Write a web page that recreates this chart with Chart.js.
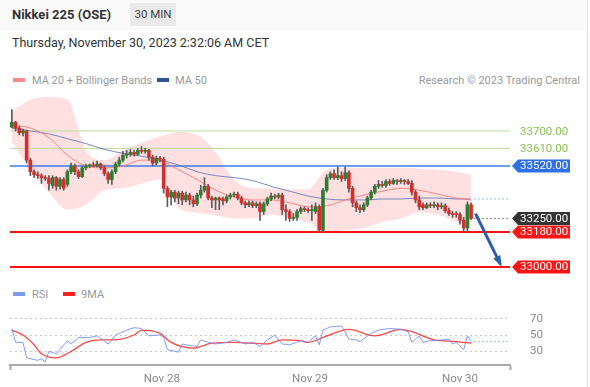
<!DOCTYPE html>
<html>
<head>
<meta charset="utf-8">
<script src="https://cdn.jsdelivr.net/npm/chart.js@4.4.0/dist/chart.umd.min.js"></script>
<style>
body{margin:0;width:590px;height:387px;background:#fff;font-family:Roboto,"Noto Sans",sans-serif;position:relative;overflow:hidden}
.t{position:absolute;white-space:nowrap;line-height:1}
#hdr{position:absolute;left:0;top:0;width:588px;height:30px;background:#fafafa}
#edge{position:absolute;left:587px;top:0;width:1px;height:387px;background:#e4e4e4}
#tf{position:absolute;left:130px;top:3px;width:46px;height:23px;background:#e9e9e9;color:#444;font-size:11.5px;text-align:center;line-height:23px}
.sw{position:absolute;width:12px;height:4px}
canvas{position:absolute;left:0}
</style>
</head>
<body>
<div id="hdr"></div>
<div id="edge"></div>
<div class="t" style="left:12px;top:8px;font-size:13px;font-weight:bold;color:#333">Nikkei 225 (OSE)</div>
<div id="tf">30 MIN</div>
<div class="t" style="left:12px;top:37px;font-size:12.5px;color:#333">Thursday, November 30, 2023 2:32:06 AM CET</div>
<div class="sw" style="left:13px;top:78px;background:#ff8a8a"></div>
<div class="t" style="left:32px;top:75px;font-size:11px;color:#999">MA 20 + Bollinger Bands</div>
<div class="sw" style="left:157px;top:78px;background:#2f5596"></div>
<div class="t" style="left:175px;top:75px;font-size:11px;color:#999">MA 50</div>
<div class="t" style="right:10px;top:75px;font-size:11px;color:#999">Research © 2023 Trading Central</div>
<div class="sw" style="left:13px;top:292px;background:#7b9cf0"></div>
<div class="t" style="left:32px;top:289px;font-size:11px;color:#999">RSI</div>
<div class="sw" style="left:63px;top:292px;background:#ff2020"></div>
<div class="t" style="left:81px;top:289px;font-size:11px;color:#999">9MA</div>
<canvas id="main" width="590" height="185" style="top:95px"></canvas>
<canvas id="rsi" width="590" height="91" style="top:296px"></canvas>
<script>
// 30 min candles, index = candle number
const opens=[33720,33745,33715,33690,33700,33550,33490,33475,33470,33460,33455,33420,33460,33415,33450,33425,33490,33520,33490,33465,
33510,33520,33525,33520,33530,33510,33480,33450,33490,33530,33550,33575,33580,33590,33580,33600,33595,33600,33565,33535,
33560,33555,33405,33360,33385,33355,33380,33345,33370,33345,33325,33370,33395,33415,33355,33345,33355,33350,33340,33360,
33370,33375,33355,33330,33320,33330,33315,33325,33285,33325,33350,33365,33360,33370,33295,33285,33250,33255,33285,33300,
33295,33290,33285,33310,33190,33395,33460,33480,33460,33470,33455,33485,33405,33330,33305,33295,33320,33355,33385,33415,
33425,33420,33440,33430,33445,33440,33445,33440,33430,33385,33345,33320,33305,33320,33315,33320,33310,33315,33290,33275,
33275,33270,33240,33200,33320];
const highs=[33810,33750,33725,33710,33705,33560,33500,33490,33480,33470,33470,33470,33465,33460,33460,33500,33535,33530,33500,33520,
33530,33530,33540,33545,33535,33520,33490,33500,33540,33565,33595,33600,33605,33600,33610,33620,33610,33605,33575,33570,
33570,33565,33415,33395,33395,33390,33390,33385,33380,33365,33380,33420,33460,33425,33365,33360,33360,33360,33370,33380,
33385,33385,33365,33340,33340,33340,33335,33335,33335,33360,33380,33375,33380,33380,33320,33295,33275,33295,33310,33310,
33305,33320,33330,33320,33405,33475,33490,33500,33515,33490,33515,33495,33415,33340,33320,33330,33365,33395,33425,33445,
33440,33450,33450,33455,33450,33455,33450,33450,33445,33395,33365,33330,33330,33330,33335,33330,33330,33325,33305,33285,
33285,33280,33255,33335,33330];
const lows=[33715,33700,33680,33675,33535,33470,33460,33455,33430,33445,33395,33405,33395,33400,33395,33415,33480,33475,33455,33460,
33500,33510,33515,33515,33500,33470,33430,33425,33480,33520,33540,33560,33570,33570,33575,33585,33585,33550,33520,33525,
33540,33380,33310,33320,33335,33325,33320,33335,33320,33310,33315,33355,33385,33345,33305,33295,33295,33320,33330,33350,
33360,33345,33320,33305,33310,33305,33305,33240,33270,33315,33340,33350,33350,33270,33240,33235,33240,33240,33275,33285,
33280,33240,33275,33180,33180,33385,33450,33450,33450,33440,33445,33385,33310,33285,33280,33285,33310,33345,33375,33405,
33410,33410,33420,33425,33425,33430,33425,33425,33370,33330,33295,33295,33300,33305,33305,33295,33300,33280,33265,33255,
33255,33220,33180,33180,33245];
const closes=[33745,33715,33690,33700,33550,33490,33475,33470,33460,33455,33430,33460,33415,33450,33405,33490,33520,33490,33465,33510,
33520,33525,33520,33530,33510,33480,33450,33490,33530,33550,33575,33580,33590,33580,33600,33595,33600,33565,33535,33560,
33555,33405,33360,33385,33355,33380,33345,33370,33345,33325,33370,33395,33415,33355,33345,33355,33345,33340,33360,33370,
33375,33355,33330,33320,33330,33315,33325,33285,33325,33350,33365,33360,33370,33295,33285,33250,33255,33285,33300,33295,
33290,33295,33310,33190,33395,33460,33480,33460,33470,33455,33485,33405,33330,33305,33295,33320,33355,33385,33415,33425,
33420,33440,33430,33445,33440,33445,33440,33430,33385,33345,33310,33305,33320,33315,33320,33310,33315,33290,33275,33270,
33270,33240,33200,33320,33250];

// moving averages / bands read every 5 candles
const bandIdx=[0,5,10,15,20,25,30,35,40,45,50,55,60,65,70,75,80,85,90,95,100,105,110,115,120,124];
const bbUpper=[33800,33860,33875,33860,33600,33550,33600,33640,33670,33695,33680,33590,33450,33405,33405,33400,33400,33500,33510,33510,33510,33510,33505,33500,33490,33475];
const bbLower=[33645,33500,33385,33295,33320,33395,33405,33430,33450,33305,33280,33265,33250,33250,33270,33250,33230,33180,33190,33200,33230,33250,33280,33270,33230,33205];
const ma20=[33730,33715,33665,33575,33520,33510,33520,33550,33545,33500,33450,33395,33360,33345,33345,33330,33310,33315,33345,33370,33390,33405,33395,33375,33355,33345];
const ma50=[33715,33700,33685,33660,33635,33605,33585,33570,33550,33525,33490,33470,33460,33445,33415,33390,33365,33350,33345,33345,33350,33350,33355,33355,33350,33350];

const rsiIdx=[0,1,3,4,7,8,9,10,12,15,16,18,21,23,26,28,31,33,35,37,40,41,42,45,46,47,50,51,53,55,58,60,63,65,67,69,71,73,75,78,80,82,83,84,86,89,90,91,93,94,97,99,102,105,107,108,110,111,113,116,118,119,120,122,123,124];
const rsiVal=[58,41,41,22,19,21,17,30,27,43,39,47,47,49,39,50,56,59,58,49,50,47,32,29,39,38,36,44,41,39,41,44,39,41,36,44,50,39,38,43,41,49,38,56,60,61,54,45,44,42,52,56,58,57,54,41,49,41,43,44,45,39,41,32,49,42];
const rsiMaIdx=[0,3,6,8,12,16,20,24,27,33,35,40,43,49,54,60,69,73,78,80,84,91,98,105,108,114,120,124];
const rsiMaVal=[56,50,38,27,22,30,41,44,44,50,56,52,41,34,40,41,39,44,43,41,47,57,49,57,54,44,42,40];

const levels=[33700,33610,33520,33250,33180,33000];
const levelKind=['green','green','blue','dark','red','red'];
const dayTicks=[40.5,80.5,121];
const dayLabels=['Nov 28','Nov 29','Nov 30'];
const rsiTicks=[30,50,70];
const arrowFrom=[125.2,33275];
const arrowTo=[131.9,33015];

const X_MIN=-0.5, X_MAX=134.5;
const last=closes.length-1;
const pts=(xs,ys)=>xs.map((x,i)=>({x:x,y:ys[i]}));
const upCol='#2e7d32', dnCol='#d32f2f';
const candleCols=closes.map((c,i)=>c>=opens[i]?upCol:dnCol);
const lineStyle={green:{c:'#bcdc9f',w:1},blue:{c:'#3c7bf0',w:1.5},red:{c:'#ff1414',w:2}};
const tagCol={blue:'#2f6fe6',dark:'#333333',red:'#ff1414'};

const levelSets=levels.map((v,k)=>{
  const kind=levelKind[k];
  if(kind==='dark') return {type:'line',data:[{x:last+0.8,y:v},{x:X_MAX,y:v}],borderColor:'#888',borderWidth:1,borderDash:[2,2],pointRadius:0,order:4};
  const s=lineStyle[kind];
  return {type:'line',data:[{x:X_MIN,y:v},{x:X_MAX,y:v}],borderColor:s.c,borderWidth:s.w,pointRadius:0,order:4};
});

const tagPlugin={id:'tags',afterDraw(chart){
  const ctx=chart.ctx, ys=chart.scales.y, xs=chart.scales.x, right=chart.chartArea.right;
  ctx.save();
  ctx.font='11.5px Roboto, sans-serif';
  ctx.textBaseline='middle';
  levels.forEach((v,k)=>{
    const py=ys.getPixelForValue(v), kind=levelKind[k];
    if(kind==='green'){ctx.fillStyle='#8cc152';ctx.fillText(v.toFixed(2),right+10,py+1);return;}
    ctx.fillStyle=tagCol[kind];
    ctx.beginPath();
    ctx.moveTo(right+2,py);ctx.lineTo(right+8,py-6.5);ctx.lineTo(right+60,py-6.5);
    ctx.lineTo(right+60,py+6.5);ctx.lineTo(right+8,py+6.5);ctx.closePath();ctx.fill();
    ctx.fillStyle='#fff';ctx.fillText(v.toFixed(2),right+10,py+0.5);
  });
  // arrow head
  const x1=xs.getPixelForValue(arrowFrom[0]), y1=ys.getPixelForValue(arrowFrom[1]);
  const x2=xs.getPixelForValue(arrowTo[0]), y2=ys.getPixelForValue(arrowTo[1]);
  const a=Math.atan2(y2-y1,x2-x1), L=9;
  ctx.fillStyle='#2d5da8';
  ctx.beginPath();
  ctx.moveTo(x2+3*Math.cos(a),y2+3*Math.sin(a));
  ctx.lineTo(x2-L*Math.cos(a-0.45),y2-L*Math.sin(a-0.45));
  ctx.lineTo(x2-L*Math.cos(a+0.45),y2-L*Math.sin(a+0.45));
  ctx.closePath();ctx.fill();
  ctx.restore();
}};

new Chart(document.getElementById('main'),{
  type:'line',
  data:{datasets:[
    {type:'bar',data:opens.map((o,i)=>({x:i,y:[o,closes[i]]})),backgroundColor:candleCols,barThickness:3,minBarLength:1,grouped:false,order:0},
    {type:'bar',data:lows.map((l,i)=>({x:i,y:[l,highs[i]]})),backgroundColor:'#5a5a5a',barThickness:1,grouped:false,order:1},
    {type:'line',data:pts(bandIdx,ma20),borderColor:'rgba(255,110,110,0.8)',borderWidth:1,pointRadius:0,cubicInterpolationMode:'monotone',order:2},
    {type:'line',data:pts(bandIdx,ma50),borderColor:'rgba(90,120,185,0.85)',borderWidth:1,pointRadius:0,cubicInterpolationMode:'monotone',order:2},
    {type:'line',data:[{x:last+0.8,y:ma50[ma50.length-1]},{x:X_MAX,y:ma50[ma50.length-1]}],borderColor:'#9fb4e8',borderWidth:1,borderDash:[2,2],pointRadius:0,order:3},
    {type:'line',data:[{x:arrowFrom[0],y:arrowFrom[1]},{x:arrowTo[0],y:arrowTo[1]}],borderColor:'#2d5da8',borderWidth:3,pointRadius:0,order:0},
    ...levelSets,
    {type:'line',data:pts(bandIdx,bbUpper),borderWidth:0,pointRadius:0,cubicInterpolationMode:'monotone',fill:'+1',backgroundColor:'rgba(255,0,0,0.12)',order:6},
    {type:'line',data:pts(bandIdx,bbLower),borderWidth:0,pointRadius:0,cubicInterpolationMode:'monotone',order:6}
  ]},
  options:{
    responsive:false,animation:false,
    layout:{padding:{left:10,right:80,top:0,bottom:0},autoPadding:false},
    plugins:{legend:{display:false},tooltip:{enabled:false}},
    scales:{
      x:{type:'linear',display:false,min:X_MIN,max:X_MAX,offset:false},
      y:{display:false,min:32933,max:33885}
    }
  },
  plugins:[tagPlugin]
});

new Chart(document.getElementById('rsi'),{
  type:'line',
  data:{datasets:[
    {data:pts(rsiIdx,rsiVal),borderColor:'rgba(110,140,240,0.85)',borderWidth:1,pointRadius:0,tension:0},
    {data:pts(rsiMaIdx,rsiMaVal),borderColor:'rgba(255,40,40,0.85)',borderWidth:1.3,pointRadius:0,cubicInterpolationMode:'monotone'},
    {data:[{x:last+0.8,y:rsiVal[rsiVal.length-1]},{x:X_MAX,y:rsiVal[rsiVal.length-1]}],borderColor:'#a9bcf0',borderWidth:1,borderDash:[2,2],pointRadius:0}
  ]},
  options:{
    responsive:false,animation:false,
    layout:{padding:{left:10,right:0,top:4,bottom:0},autoPadding:false},
    plugins:{legend:{display:false},tooltip:{enabled:false}},
    scales:{
      x:{type:'linear',min:X_MIN,max:X_MAX,offset:false,
        afterBuildTicks:s=>{s.ticks=[X_MIN,...dayTicks,X_MAX].map(v=>({value:v}));},
        afterFit:s=>{s.height=22;},
        ticks:{autoSkip:false,maxRotation:0,padding:2,color:'#888',font:{size:11.5,family:'Roboto'},
          callback:v=>{const k=dayTicks.indexOf(v);return k<0?'':dayLabels[k];}},
        grid:{drawOnChartArea:false,drawTicks:true,tickLength:5,
          tickColor:c=>(c.tick&&(c.tick.value===X_MIN||c.tick.value===X_MAX))?'#aaa':'rgba(0,0,0,0)',tickWidth:2,color:'rgba(0,0,0,0)'},
        border:{display:true,color:'#aaa',width:2}
      },
      y:{position:'right',min:13.3,max:85.6,
        afterBuildTicks:s=>{s.ticks=rsiTicks.map(v=>({value:v}));},
        afterFit:s=>{s.width=80;},
        ticks:{padding:3,color:'#888',font:{size:11.5,family:'Roboto'}},
        grid:{drawTicks:true,tickLength:17,tickColor:'rgba(0,0,0,0)',color:'#c8c8c8',lineWidth:1},
        border:{display:false,dash:[2,3]}
      }
    }
  }
});
</script>
</body>
</html>
